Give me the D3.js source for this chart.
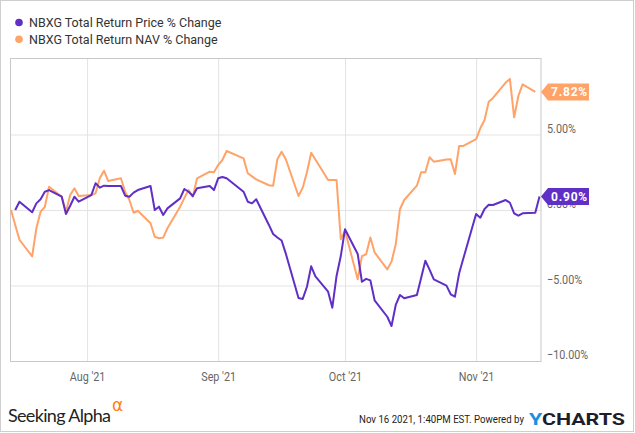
<!DOCTYPE html>
<html>
<head>
<meta charset="utf-8">
<script src="https://d3js.org/d3.v7.min.js"></script>
<title>NBXG Total Return</title>
<style>
    body { margin: 0px; background: #fff; }
    text { font-family: Roboto, "Noto Sans", sans-serif; }
</style>
</head>
<body>
<svg width="635" height="433"></svg>
<script>
    // trading days shown on the chart
    const dates = [
        '2021-07-14','2021-07-15','2021-07-16','2021-07-19','2021-07-20','2021-07-21','2021-07-22','2021-07-23',
        '2021-07-26','2021-07-27','2021-07-28','2021-07-29','2021-07-30',
        '2021-08-02','2021-08-03','2021-08-04','2021-08-05','2021-08-06','2021-08-09','2021-08-10','2021-08-11',
        '2021-08-12','2021-08-13','2021-08-16','2021-08-17','2021-08-18','2021-08-19','2021-08-20','2021-08-23',
        '2021-08-24','2021-08-25','2021-08-26','2021-08-27','2021-08-30','2021-08-31',
        '2021-09-01','2021-09-02','2021-09-03','2021-09-07','2021-09-08','2021-09-09','2021-09-10','2021-09-13',
        '2021-09-14','2021-09-15','2021-09-16','2021-09-17','2021-09-20','2021-09-21','2021-09-22','2021-09-23',
        '2021-09-24','2021-09-27','2021-09-28','2021-09-29','2021-09-30',
        '2021-10-01','2021-10-04','2021-10-05','2021-10-06','2021-10-07','2021-10-08','2021-10-11','2021-10-12',
        '2021-10-13','2021-10-14','2021-10-15','2021-10-18','2021-10-19','2021-10-20','2021-10-21','2021-10-22',
        '2021-10-25','2021-10-26','2021-10-27','2021-10-28','2021-10-29',
        '2021-11-01','2021-11-02','2021-11-03','2021-11-04','2021-11-05','2021-11-08','2021-11-09','2021-11-10',
        '2021-11-11','2021-11-12','2021-11-15','2021-11-16'
    ];

    // Total Return Price % Change
    const priceChange = [
        null, 0, 0.55, -0.15, 0.44, 0.71, 1.21, 1.32,
        0.88, -0.26, 0.28, 0.88, 0.55,
        0.99, 1.77, 1.48, 1.61, 1.59, 1.59, 0.95, 0.88,
        1.15, 1.32, 1.59, 0, 0.22, -0.33, 0.11, 0.77,
        1.39, 1.21, 0.93, 1.44, 1.59, 1.32,
        2.1, 2.19, 2.1, 1.21, 0.55, 0.44, 0.71, -0.99,
        -1.59, -1.82, -2.02, -2.89, -5.83, -5.89, -5.08, -3.73,
        -4.40, -5.41, -6.47, -4.37, -3.05,
        -1.27, -2.91, -4.75, -4.56, -4.66, -5.98, -7.07, -7.68,
        -6.29, -5.63, -5.85, -5.63, -4.50, -3.36, -3.95, -4.59,
        -5.01, -5.58, -5.74, -4.19, -3.20,
        -0.26, -0.51, 0.07, 0.35, 0.33, 0.66, 0.48, -0.22,
        -0.38, -0.22, -0.18, 0.90
    ];

    // Total Return NAV % Change
    const navChange = [
        0, -1.0, -1.97, -3.07, -1.21, -0.11, 0.2, 1.54,
        0.88, -0.11, 0.99, 1.44, 0.93,
        0.99, 1.11, 2.10, 2.60, 1.92, 2.10, 1.21, 0.66,
        -0.18, -0.05, -0.88, -1.77, -1.87, -1.83, -1.21, 0.22,
        0.79, 1.32, 0.88, 2.10, 2.54, 2.50,
        2.98, 3.31, 3.91, 3.42, 2.43, 2.23, 2.03, 1.64,
        1.61, 3.36, 3.86, 3.36, 0.93, 1.48, 2.50, 3.79,
        3.34, 1.99, 1.99, 1.99, -1.94,
        -1.37, -4.59, -3.05, -2.93, -1.82, -2.81, -3.93, -3.42,
        -2.27, 0.05, 0.66, 1.61, 2.50, 2.50, 3.49, 3.20,
        3.34, 3.36, 2.38, 4.24, 4.24,
        4.70, 5.41, 5.96, 7.17, 7.42, 8.44, 8.68, 6.14,
        7.55, 8.32, 7.82, null
    ];

    const seriesNames = ['NBXG Total Return Price % Change', 'NBXG Total Return NAV % Change'];
    const seriesColors = ['#5f2fc6', '#ffa369'];
    const yTickValues = [-10, -5, 0, 5];
    const xTickDates = ['2021-08-01', '2021-09-01', '2021-10-01', '2021-11-01'];

    const parse = d3.timeParse('%Y-%m-%d');
    const svg = d3.select('svg');

    const plot = { left: 11, right: 540.5, top: 59, bottom: 361 };

    const xScale = d3.scaleTime()
        .domain([parse('2021-07-14'), parse('2021-11-16')])
        .range([plot.left, plot.right - 1]);
    const yScale = d3.scaleLinear()
        .domain([-10, 10])
        .range([plot.bottom, plot.top]);

    // outer frame
    svg.append('rect')
        .attr('x', 0.5).attr('y', 0.5)
        .attr('width', 633).attr('height', 431)
        .attr('fill', 'none').attr('stroke', '#cfcfcf');

    // grid
    const yGrid = d3.axisLeft(yScale)
        .tickValues(yTickValues)
        .tickSize(-(plot.right - plot.left))
        .tickFormat('');
    svg.append('g')
        .attr('transform', `translate(${plot.left},0)`)
        .call(yGrid)
        .call(g => g.select('.domain').remove())
        .call(g => g.selectAll('line').attr('stroke', '#e3e3e3'));

    const xGrid = d3.axisBottom(xScale)
        .tickValues(xTickDates.map(parse))
        .tickSize(-(plot.bottom - plot.top))
        .tickFormat(d3.timeFormat("%b '%y"));
    const xAxisG = svg.append('g')
        .attr('transform', `translate(0,${plot.bottom})`)
        .call(xGrid);
    xAxisG.select('.domain').remove();
    xAxisG.selectAll('line').attr('stroke', '#e3e3e3');
    xAxisG.selectAll('text')
        .attr('y', 20)
        .attr('dy', 0)
        .attr('fill', '#666')
        .style('font-size', '13px')
        .attr('transform', 'scale(0.83,1)');

    // plot border
    svg.append('rect')
        .attr('x', plot.left - 0.5).attr('y', plot.top - 0.5)
        .attr('width', plot.right - plot.left + 1).attr('height', plot.bottom - plot.top + 1)
        .attr('fill', 'none').attr('stroke', '#c8c8c8');

    // right axis labels
    svg.append('g').selectAll('text')
        .data(yTickValues)
        .join('text')
        .attr('transform', d => `translate(547,${yScale(d) - 2}) scale(0.83,1)`)
        .attr('fill', '#666')
        .style('font-size', '13px')
        .text(d => d3.format('.2f')(d) + '%');

    // lines
    const rows = dates.map((d, i) => ({ date: parse(d), price: priceChange[i], nav: navChange[i] }));
    const keys = ['price', 'nav'];

    [1, 0].forEach(k => {
        const key = keys[k];
        const line = d3.line()
            .defined(d => d[key] !== null)
            .x(d => xScale(d.date))
            .y(d => yScale(d[key]));
        svg.append('path')
            .datum(rows)
            .attr('fill', 'none')
            .attr('stroke', seriesColors[k])
            .attr('stroke-width', 2)
            .attr('stroke-linejoin', 'round')
            .attr('d', line);
    });

    // end-value flags
    [0, 1].forEach(k => {
        const key = keys[k];
        const last = rows.filter(d => d[key] !== null).pop();
        const y = yScale(last[key]);
        const x0 = plot.right + 0.5;
        const flag = svg.append('g').attr('transform', `translate(${x0},${y})`);
        flag.append('path')
            .attr('d', 'M0,0 L7,-8.5 L48,-8.5 L48,8.5 L7,8.5 Z')
            .attr('fill', seriesColors[k]);
        flag.append('text')
            .attr('x', 10)
            .attr('y', 4.5)
            .attr('fill', '#fff')
            .style('font-size', '12px')
            .style('font-weight', 'bold')
            .style('letter-spacing', '0.8px')
            .text(last[key].toFixed(2) + '%');
    });

    // legend
    const legend = svg.append('g');
    seriesNames.forEach((name, i) => {
        const ly = 22.5 + i * 16.7;
        legend.append('circle')
            .attr('cx', 19).attr('cy', ly).attr('r', 3.8)
            .attr('fill', seriesColors[i]);
        legend.append('text')
            .attr('x', 29).attr('y', ly + 4.5)
            .attr('fill', '#333')
            .style('font-size', '12.5px')
            .text(name);
    });

    // footer
    const footer = svg.append('g');
    footer.append('text')
        .attr('x', 8).attr('y', 421.5)
        .attr('fill', '#222')
        .style('font-family', 'Lato, "Open Sans", sans-serif')
        .style('font-size', '18px')
        .attr('textLength', 103)
        .text('Seeking Alpha');
    footer.append('text')
        .attr('x', 112).attr('y', 411)
        .attr('fill', '#ff7f11')
        .style('font-family', '"DejaVu Sans", sans-serif')
        .style('font-size', '17px')
        .text('\u03b1');
    footer.append('text')
        .attr('x', 359).attr('y', 423)
        .attr('fill', '#222')
        .style('font-size', '11.5px')
        .attr('textLength', 165)
        .attr('lengthAdjust', 'spacingAndGlyphs')
        .text('Nov 16 2021, 1:40PM EST.  Powered by');
    const yc = footer.append('text')
        .attr('x', 529).attr('y', 425)
        .style('font-size', '16.5px')
        .style('font-weight', 'bold')
        .attr('textLength', 96)
        .attr('lengthAdjust', 'spacingAndGlyphs');
    yc.append('tspan').attr('fill', '#1b8fdc').text('Y');
    yc.append('tspan').attr('fill', '#1c1e2c').text('CHARTS');
</script>
</body>
</html>
